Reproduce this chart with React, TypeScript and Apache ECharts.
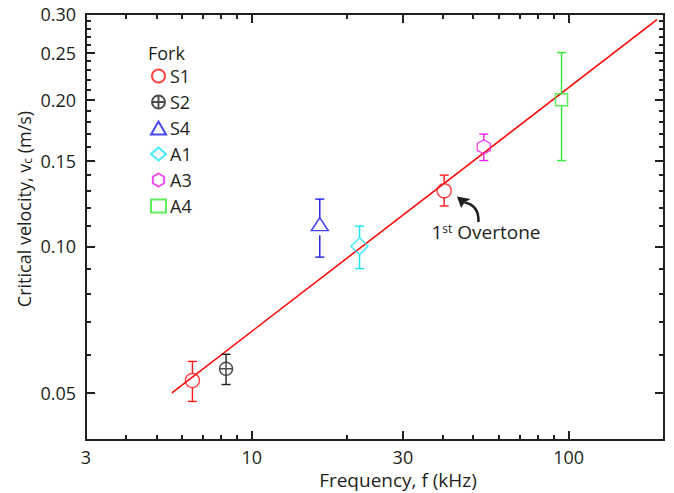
import React, { useEffect, useRef } from "react";
import * as echarts from "echarts";

// ---- data (frequency kHz, velocity m/s, lower, upper) ----
const S1Data = [
  [6.5, 0.053, 0.048, 0.058],
  [40.5, 0.13, 0.121, 0.14],
];
const S2Data = [[8.3, 0.056, 0.052, 0.06]];
const S4Data = [[16.4, 0.111, 0.095, 0.125]];
const A1Data = [[21.9, 0.1, 0.09, 0.11]];
const A3Data = [[54, 0.16, 0.15, 0.17]];
const A4Data = [[95, 0.2, 0.15, 0.25]];
const fitLine = [
  [5.6, 0.05],
  [190, 0.292],
];

const xLabels = [3, 10, 30, 100];
const xMajorTicks = [10, 30, 100];
const xMinorTicks = [4, 5, 6, 7, 8, 9, 20, 40, 50, 60, 70, 80, 90];
const yLabels = [0.05, 0.1, 0.15, 0.2, 0.25, 0.3];
const yMinorTicks = [
  0.06, 0.07, 0.08, 0.09, 0.11, 0.12, 0.13, 0.14, 0.16, 0.17, 0.18, 0.19,
  0.21, 0.22, 0.23, 0.24, 0.26, 0.27, 0.28, 0.29,
];
const xMin = 3;
const xMax = 200;
const yMin = 0.04;
const yMax = 0.3;

const FONT = "Open Sans";
const INK = "#231f20";

const S2_SYMBOL =
  "path://M0 -10 A10 10 0 1 1 0 10 A10 10 0 1 1 0 -10 Z M-10 0 L10 0 M0 -10 L0 10";
const HEX_SYMBOL =
  "path://M0 -10 L8.66 -5 L8.66 5 L0 10 L-8.66 5 L-8.66 -5 Z";

const forks = [
  { name: "S1", rows: S1Data, color: "#ff1a1a", symbol: "circle", size: 14, gapUp: 7, gapDown: 7 },
  { name: "S2", rows: S2Data, color: "#231f20", symbol: S2_SYMBOL, size: 13, gapUp: 6.5, gapDown: 6.5 },
  { name: "S4", rows: S4Data, color: "#1a1aee", symbol: "triangle", size: [17, 13], gapUp: 6.5, gapDown: 11 },
  { name: "A1", rows: A1Data, color: "#19e3ff", symbol: "diamond", size: [17, 17], gapUp: 8.5, gapDown: 8.5 },
  { name: "A3", rows: A3Data, color: "#ee22ee", symbol: HEX_SYMBOL, size: [13, 14], gapUp: 7, gapDown: 7 },
  { name: "A4", rows: A4Data, color: "#33ee33", symbol: "rect", size: 12, gapUp: 6, gapDown: 6 },
];

const gridBox = { left: 86, right: 10, top: 14, bottom: 53, containLabel: false, outerBoundsMode: "none" };

function makeAxis(kind: "x" | "y", gridIndex: number, position: string, ticks: number[], len: number, labels: number[] | null) {
  const isX = kind === "x";
  return {
    type: "log",
    logBase: 10,
    gridIndex,
    min: isX ? xMin : yMin,
    max: isX ? xMax : yMax,
    position,
    offset: 0,
    axisLine: { show: true, onZero: false, lineStyle: { color: INK, width: 2 } },
    axisTick: { show: true, inside: true, length: len, customValues: ticks, lineStyle: { color: INK, width: 2 } },
    axisLabel: labels
      ? {
          show: true,
          customValues: labels,
          margin: isX ? 8 : 10,
          fontSize: 18,
          lineHeight: 18,
          fontFamily: FONT,
          color: INK,
          hideOverlap: false,
          formatter: isX ? (v: number) => String(Math.round(v)) : (v: number) => v.toFixed(2),
        }
      : { show: false },
    splitLine: { show: false },
    minorTick: { show: false },
  };
}

export default function App() {
  const ref = useRef<HTMLDivElement>(null);
  useEffect(() => {
    if (!ref.current) return;
    const chart = echarts.init(ref.current, null, { renderer: "svg" });
    const series: any[] = [
      {
        type: "line",
        name: "fit",
        data: fitLine,
        symbol: "none",
        showSymbol: false,
        lineStyle: { color: "#ff0000", width: 1.5 },
        z: 1,
        silent: true,
      },
    ];
    forks.forEach((f) => {
      series.push({
        type: "custom",
        name: f.name + " error",
        data: f.rows.map((r) => [r[0], r[2], r[3], r[1]]),
        encode: { x: 0, y: [1, 2] },
        z: 2,
        silent: true,
        renderItem: (params: any, api: any) => {
          const x = api.value(0);
          const lo = api.coord([x, api.value(1)]);
          const hi = api.coord([x, api.value(2)]);
          const c = api.coord([x, api.value(3)]);
          const st = { stroke: f.color, lineWidth: 1.4, fill: null };
          const cap = 4.5;
          return {
            type: "group",
            children: [
              { type: "line", shape: { x1: c[0], y1: hi[1], x2: c[0], y2: c[1] - f.gapUp }, style: st },
              { type: "line", shape: { x1: c[0], y1: c[1] + f.gapDown, x2: c[0], y2: lo[1] }, style: st },
              { type: "line", shape: { x1: c[0] - cap, y1: hi[1], x2: c[0] + cap, y2: hi[1] }, style: st },
              { type: "line", shape: { x1: c[0] - cap, y1: lo[1], x2: c[0] + cap, y2: lo[1] }, style: st },
            ],
          };
        },
      });
      series.push({
        type: "scatter",
        name: f.name,
        data: f.rows.map((r) => [r[0], r[1]]),
        symbol: f.symbol,
        symbolSize: f.size,
        itemStyle: { color: "rgba(0,0,0,0)", borderColor: f.color, borderWidth: 1.5 },
        z: 3,
      });
    });

    chart.setOption({
      animation: false,
      grid: [gridBox, { ...gridBox }],
      xAxis: [
        makeAxis("x", 0, "bottom", xMajorTicks, 9, xLabels),
        makeAxis("x", 0, "top", xMajorTicks, 9, null),
        makeAxis("x", 1, "bottom", xMinorTicks, 5, null),
        makeAxis("x", 1, "top", xMinorTicks, 5, null),
      ],
      yAxis: [
        makeAxis("y", 0, "left", yLabels, 9, yLabels),
        makeAxis("y", 0, "right", yLabels, 9, null),
        makeAxis("y", 1, "left", yMinorTicks, 5, null),
        makeAxis("y", 1, "right", yMinorTicks, 5, null),
      ],
      legend: {
        data: forks.map((f) => f.name),
        orient: "vertical",
        left: 150,
        top: 67,
        padding: 0,
        itemWidth: 15,
        itemHeight: 13,
        itemGap: 8,
        textStyle: { fontSize: 18, fontFamily: FONT, color: INK, padding: [0, 0, 0, -1] },
        selectedMode: false,
      },
      graphic: [
        {
          type: "text",
          left: 148,
          top: 44,
          style: { text: "Fork", fontSize: 18, fontFamily: FONT, fill: INK },
        },
        {
          type: "text",
          x: 24,
          y: 209,
          rotation: Math.PI / 2,
          style: {
            text: "{a|Critical velocity, v}{s|c}{a| (m/s)}",
            align: "center",
            verticalAlign: "middle",
            rich: {
              a: { fontSize: 18, fontFamily: FONT, fill: INK },
              s: { fontSize: 12, fontFamily: FONT, fill: INK, padding: [7, 0, 0, 0] },
            },
          },
        },
        {
          type: "text",
          x: 398,
          y: 480,
          style: {
            text: "Frequency, f (kHz)",
            align: "center",
            verticalAlign: "middle",
            fontSize: 19,
            lineHeight: 19,
            fontFamily: FONT,
            fill: INK,
          },
        },
        {
          type: "text",
          x: 486,
          y: 232,
          style: {
            text: "{a|1}{s|st}{a| Overtone}",
            align: "center",
            verticalAlign: "middle",
            rich: {
              a: { fontSize: 19, fontFamily: FONT, fill: INK },
              s: { fontSize: 12, fontFamily: FONT, fill: INK, padding: [0, 0, 8, 0] },
            },
          },
        },
        {
          type: "bezierCurve",
          shape: { x1: 478.5, y1: 222, cpx1: 479, cpy1: 205, x2: 464.5, y2: 202.5 },
          style: { stroke: INK, lineWidth: 2.5, fill: null },
        },
        {
          type: "polygon",
          shape: { points: [[457, 196.5], [470.5, 199], [464.5, 202.5], [461, 208]] },
          style: { fill: INK },
        },
      ],
      series,
    });
    return () => chart.dispose();
  }, []);
  return (
    <div
      ref={ref}
      style={{ position: "fixed", left: 0, top: 0, width: 674, height: 493, background: "#fff" }}
    />
  );
}
